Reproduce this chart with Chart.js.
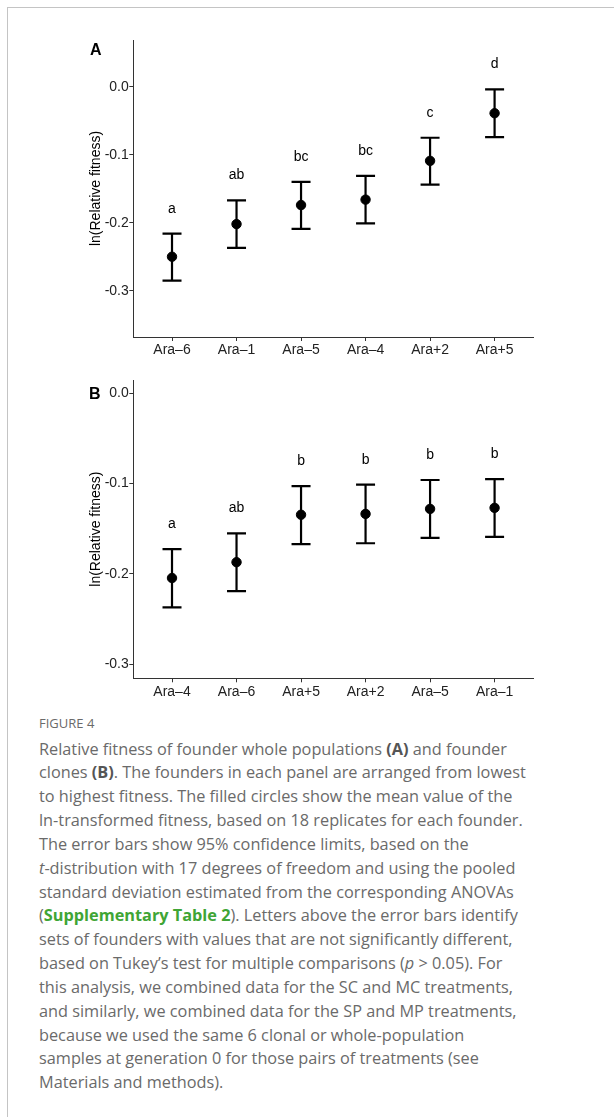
<!DOCTYPE html>
<html>
<head>
<meta charset="utf-8">
<script src="https://cdn.jsdelivr.net/npm/chart.js@4.4.1/dist/chart.umd.min.js"></script>
<style>
  body { margin: 0; background: #fff; width: 614px; height: 1117px; position: relative; overflow: hidden; }
  #frame { position: absolute; left: 7px; top: 7px; width: 620px; height: 1120px; border-top: 1px solid #c4c4c4; border-left: 1px solid #c4c4c4; }
  canvas { position: absolute; left: 0; }
  .panel { position: absolute; font-family: "Liberation Sans", Arial, sans-serif; font-weight: bold; font-size: 16px; color: #000; }
  #figlabel { position: absolute; left: 39px; top: 715px; font-family: "Open Sans", sans-serif; font-size: 13px; line-height: 16px; color: #6a6a6a; }
  #caption { position: absolute; left: 39px; top: 737.5px; font-family: "Open Sans", sans-serif; font-size: 16.3px; line-height: 23.85px; color: #6a6a6a; white-space: nowrap; }
  #caption b { color: #555; }
  #caption .sup { color: #3fa535; font-weight: bold; }
</style>
</head>
<body>
<div id="frame"></div>
<canvas id="chartA" width="614" height="370" style="top:0"></canvas>
<canvas id="chartB" width="614" height="330" style="top:370px"></canvas>
<div class="panel" style="left:90px; top:41px;">A</div>
<div class="panel" style="left:89px; top:385px;">B</div>
<div id="figlabel">FIGURE 4</div>
<div id="caption">
Relative fitness of founder whole populations <b>(A)</b> and founder<br>
clones <b>(B)</b>. The founders in each panel are arranged from lowest<br>
to highest fitness. The filled circles show the mean value of the<br>
ln-transformed fitness, based on 18 replicates for each founder.<br>
The error bars show 95% confidence limits, based on the<br>
<i>t</i>-distribution with 17 degrees of freedom and using the pooled<br>
standard deviation estimated from the corresponding ANOVAs<br>
(<span class="sup">Supplementary Table 2</span>). Letters above the error bars identify<br>
sets of founders with values that are not significantly different,<br>
based on Tukey’s test for multiple comparisons (<i>p</i> &gt; 0.05). For<br>
this analysis, we combined data for the SC and MC treatments,<br>
and similarly, we combined data for the SP and MP treatments,<br>
because we used the same 6 clonal or whole-population<br>
samples at generation 0 for those pairs of treatments (see<br>
Materials and methods).
</div>
<script>
// Panel A - founder whole populations
var catsA = ["Ara–6", "Ara–1", "Ara–5", "Ara–4", "Ara+2", "Ara+5"];
var meanA = [-0.250, -0.202, -0.174, -0.166, -0.109, -0.039];
var lowA  = [-0.285, -0.237, -0.209, -0.201, -0.144, -0.074];
var highA = [-0.216, -0.167, -0.140, -0.131, -0.075, -0.004];
var lettersA = ["a", "ab", "bc", "bc", "c", "d"];

// Panel B - founder clones
var catsB = ["Ara–4", "Ara–6", "Ara+5", "Ara+2", "Ara–5", "Ara–1"];
var meanB = [-0.2045, -0.187, -0.1345, -0.1335, -0.128, -0.1268];
var lowB  = [-0.237, -0.219, -0.167, -0.166, -0.160, -0.159];
var highB = [-0.1725, -0.155, -0.1027, -0.1012, -0.096, -0.095];
var lettersB = ["a", "ab", "b", "b", "b", "b"];

var yTicks = [-0.3, -0.2, -0.1, 0.0];

const FONT = "Liberation Sans, Arial, sans-serif";

// error bars + group letters drawn from the scales
var errorBarPlugin = {
    id: 'errorBars',
    beforeDatasetsDraw: function(chart) {
        var ctx = chart.ctx;
        var xs = chart.scales.x, ys = chart.scales.y;
        var lo = chart.options.plugins.errorBars.low;
        var hi = chart.options.plugins.errorBars.high;
        ctx.save();
        ctx.strokeStyle = '#000';
        ctx.lineWidth = 2.2;
        for (var i = 0; i < lo.length; i++) {
            var x = xs.getPixelForValue(i + 1);
            var y1 = ys.getPixelForValue(lo[i]);
            var y2 = ys.getPixelForValue(hi[i]);
            ctx.beginPath();
            ctx.moveTo(x, y1); ctx.lineTo(x, y2);
            ctx.moveTo(x - 9.5, y1); ctx.lineTo(x + 9.5, y1);
            ctx.moveTo(x - 9.5, y2); ctx.lineTo(x + 9.5, y2);
            ctx.stroke();
        }
        ctx.restore();
    },
    afterDatasetsDraw: function(chart) {
        var ctx = chart.ctx;
        var xs = chart.scales.x, ys = chart.scales.y;
        var hi = chart.options.plugins.errorBars.high;
        var letters = chart.options.plugins.errorBars.letters;
        ctx.save();
        ctx.fillStyle = '#000';
        ctx.font = '14px ' + FONT;
        ctx.textAlign = 'center';
        ctx.textBaseline = 'alphabetic';
        for (var i = 0; i < letters.length; i++) {
            ctx.fillText(letters[i], xs.getPixelForValue(i + 1), ys.getPixelForValue(hi[i]) - 21);
        }
        ctx.restore();
    }
};

function makePanel(id, cats, means, low, high, letters, yMin, yMax, padTop, xHeight) {
    var points = [];
    for (var i = 0; i < cats.length; i++) {
        points.push({x: i + 1, y: means[i]});
    }
    return new Chart(document.getElementById(id), {
        type: 'scatter',
        data: {
            datasets: [{
                data: points,
                backgroundColor: '#000',
                borderColor: '#000',
                pointRadius: 4.7,
                pointHoverRadius: 4.7
            }]
        },
        plugins: [errorBarPlugin],
        options: {
            responsive: false,
            animation: false,
            layout: { padding: { left: 88, top: padTop, right: 80.7, bottom: 0 } },
            plugins: {
                legend: { display: false },
                tooltip: { enabled: false },
                errorBars: { low: low, high: high, letters: letters }
            },
            scales: {
                x: {
                    type: 'linear',
                    min: 0.4,
                    max: 6.6,
                    afterBuildTicks: function(s) { s.ticks = cats.map(function(c, i) { return {value: i + 1}; }); },
                    afterFit: function(s) { s.height = xHeight; },
                    border: { display: true, color: '#333', width: 1 },
                    grid: { drawOnChartArea: false, drawTicks: true, tickLength: 4, color: '#333' },
                    ticks: {
                        autoSkip: false,
                        maxRotation: 0,
                        padding: 1,
                        color: '#222',
                        font: { family: FONT, size: 14 },
                        callback: function(v) { return cats[v - 1]; }
                    }
                },
                y: {
                    min: yMin,
                    max: yMax,
                    afterBuildTicks: function(s) { s.ticks = yTicks.map(function(v) { return {value: v}; }); },
                    afterFit: function(s) { s.width = 45.3; },
                    border: { display: true, color: '#333', width: 1 },
                    grid: { drawOnChartArea: false, drawTicks: true, tickLength: 4, color: '#333' },
                    title: {
                        display: true,
                        text: 'ln(Relative fitness)',
                        color: '#000',
                        padding: 0,
                        font: { family: FONT, size: 14 }
                    },
                    ticks: {
                        padding: 0.5,
                        color: '#222',
                        font: { family: FONT, size: 14 },
                        callback: function(v) { return v.toFixed(1); }
                    }
                }
            }
        }
    });
}

makePanel('chartA', catsA, meanA, lowA, highA, lettersA, -0.368, 0.0687, 40, 33);
makePanel('chartB', catsB, meanB, lowB, highB, lettersB, -0.3155, 0.0147, 10, 21.7);
</script>
</body>
</html>
